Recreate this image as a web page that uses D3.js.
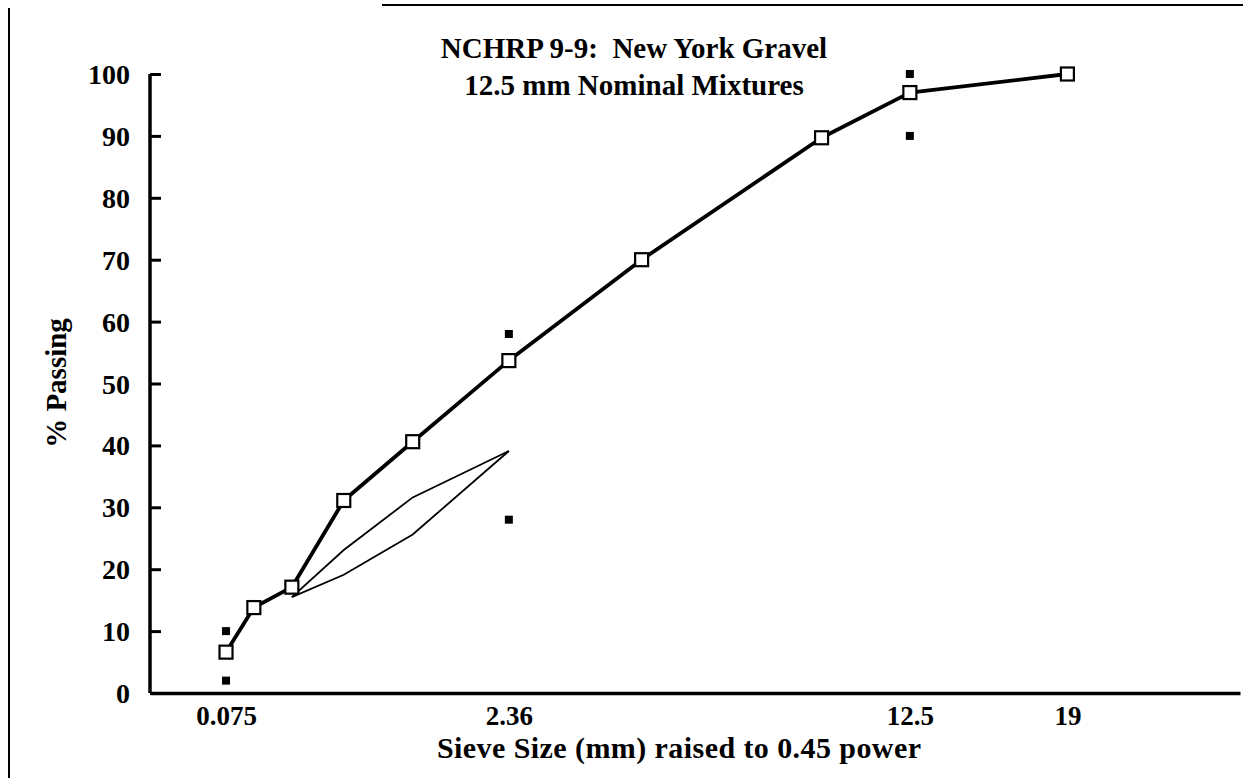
<!DOCTYPE html>
<html>
<head>
<meta charset="utf-8">
<script src="https://cdn.jsdelivr.net/npm/d3@7"></script>
<style>
  html, body { margin: 0; padding: 0; background: #fff; }
  svg { display: block; }
  svg text { font-family: "Liberation Serif", "DejaVu Serif", "Times New Roman", serif !important; font-weight: bold; fill: #000; white-space: pre; }
</style>
</head>
<body>
<svg id="chart" width="1243" height="778"></svg>
<script>
// Sieve sizes (mm) and the measured gradation (% passing)
const sieves = [0.075, 0.15, 0.3, 0.6, 1.18, 2.36, 4.75, 9.5, 12.5, 19];
const passing = [6.6, 13.8, 17.1, 31.1, 40.6, 53.7, 70.0, 89.7, 97.0, 100];

// Control points for 12.5 mm nominal mixtures
const controlSieves = [0.075, 0.075, 2.36, 2.36, 12.5, 12.5];
const controlValues = [2, 10, 28, 58, 90, 100];

// Restricted zone boundaries
const zoneSieves = [0.3, 0.6, 1.18, 2.36];
const zoneUpper = [15.5, 23.1, 31.6, 39.1];
const zoneLower = [15.5, 19.1, 25.6, 39.1];

// Axis ticks
const xTickSieves = [0.075, 2.36, 12.5, 19];
const xTickLabels = ["0.075", "2.36", "12.5", "19"];
const yTicks = [0, 10, 20, 30, 40, 50, 60, 70, 80, 90, 100];

const titleLines = ["NCHRP 9-9:  New York Gravel", "12.5 mm Nominal Mixtures"];
const xTitle = "Sieve Size (mm) raised to 0.45 power";
const yTitle = "% Passing";

const FONT = "'Liberation Serif', 'DejaVu Serif', 'Times New Roman', serif";

const svg = d3.select("#chart");
const P = 0.45;
const pw = d => Math.pow(d, P);

// x is linear in sieve size raised to the 0.45 power
const x = d3.scaleLinear().domain([0, 4.47]).range([150, 1240]);
const y = d3.scaleLinear().domain([0, 100]).range([693, 74]);

// page frame lines
svg.append("line").attr("x1", 9).attr("x2", 9).attr("y1", 8).attr("y2", 778)
  .attr("stroke", "#000").attr("stroke-width", 2);
svg.append("line").attr("x1", 382).attr("x2", 1243).attr("y1", 5).attr("y2", 5)
  .attr("stroke", "#000").attr("stroke-width", 2);

// y axis with inward ticks
const yAxis = d3.axisRight(y).tickValues(yTicks).tickSize(11).tickFormat("");
const gy = svg.append("g").attr("transform", `translate(${x(0)},0)`).call(yAxis)
  .attr("font-family", FONT).attr("font-size", 28);
gy.select(".domain").attr("d", `M0,${y(100)}V${y(0)}`).attr("stroke-width", 3.5);
gy.selectAll(".tick line").attr("stroke-width", 3);
gy.selectAll(".tick").append("text")
  .attr("x", -20).attr("dy", "0.34em")
  .attr("text-anchor", "end").attr("font-family", FONT).attr("font-size", 28)
  .attr("font-weight", "bold")
  .text(d => d);

// x axis without tick marks
const xAxis = d3.axisBottom(x).tickValues(xTickSieves.map(pw)).tickSize(0)
  .tickFormat((d, i) => xTickLabels[i]);
const gx = svg.append("g").attr("transform", `translate(0,${y(0)})`).call(xAxis)
  .attr("font-family", FONT).attr("font-size", 27);
gx.select(".domain").attr("stroke-width", 3.5);
gx.selectAll(".tick text").attr("y", 32).attr("dy", 0).attr("font-weight", "bold");

// restricted zone
const curve = d3.line().x(d => x(pw(d[0]))).y(d => y(d[1]));
svg.append("path")
  .datum(zoneSieves.map((s, i) => [s, zoneUpper[i]]))
  .attr("d", curve).attr("fill", "none").attr("stroke", "#000").attr("stroke-width", 1.8);
svg.append("path")
  .datum(zoneSieves.map((s, i) => [s, zoneLower[i]]))
  .attr("d", curve).attr("fill", "none").attr("stroke", "#000").attr("stroke-width", 1.8);

// control points
svg.append("g").selectAll("rect")
  .data(controlSieves.map((s, i) => [s, controlValues[i]]))
  .join("rect")
  .attr("x", d => x(pw(d[0])) - 4).attr("y", d => y(d[1]) - 4)
  .attr("width", 8).attr("height", 8).attr("fill", "#000");

// gradation curve
const grad = sieves.map((s, i) => [s, passing[i]]);
svg.append("path").datum(grad).attr("d", curve)
  .attr("fill", "none").attr("stroke", "#000").attr("stroke-width", 3.8)
  .attr("stroke-linejoin", "round");
svg.append("g").selectAll("rect")
  .data(grad).join("rect")
  .attr("x", d => x(pw(d[0])) - 6.5).attr("y", d => y(d[1]) - 6.5)
  .attr("width", 13).attr("height", 13)
  .attr("fill", "#fff").attr("stroke", "#000").attr("stroke-width", 2.2);

// titles
svg.append("g").selectAll("text").data(titleLines).join("text")
  .attr("x", 634).attr("y", (d, i) => 58 + i * 37)
  .attr("text-anchor", "middle").attr("font-family", FONT).attr("font-size", 29)
  .attr("font-weight", "bold").attr("xml:space", "preserve")
  .text(d => d);

svg.append("text").attr("x", 679).attr("y", 758)
  .attr("text-anchor", "middle").attr("font-family", FONT).attr("font-size", 30)
  .attr("font-weight", "bold")
  .attr("textLength", 484).attr("lengthAdjust", "spacing")
  .text(xTitle);

svg.append("text")
  .attr("transform", "translate(66,383) rotate(-90)")
  .attr("text-anchor", "middle").attr("font-family", FONT).attr("font-size", 29)
  .attr("font-weight", "bold").text(yTitle);
</script>
</body>
</html>
